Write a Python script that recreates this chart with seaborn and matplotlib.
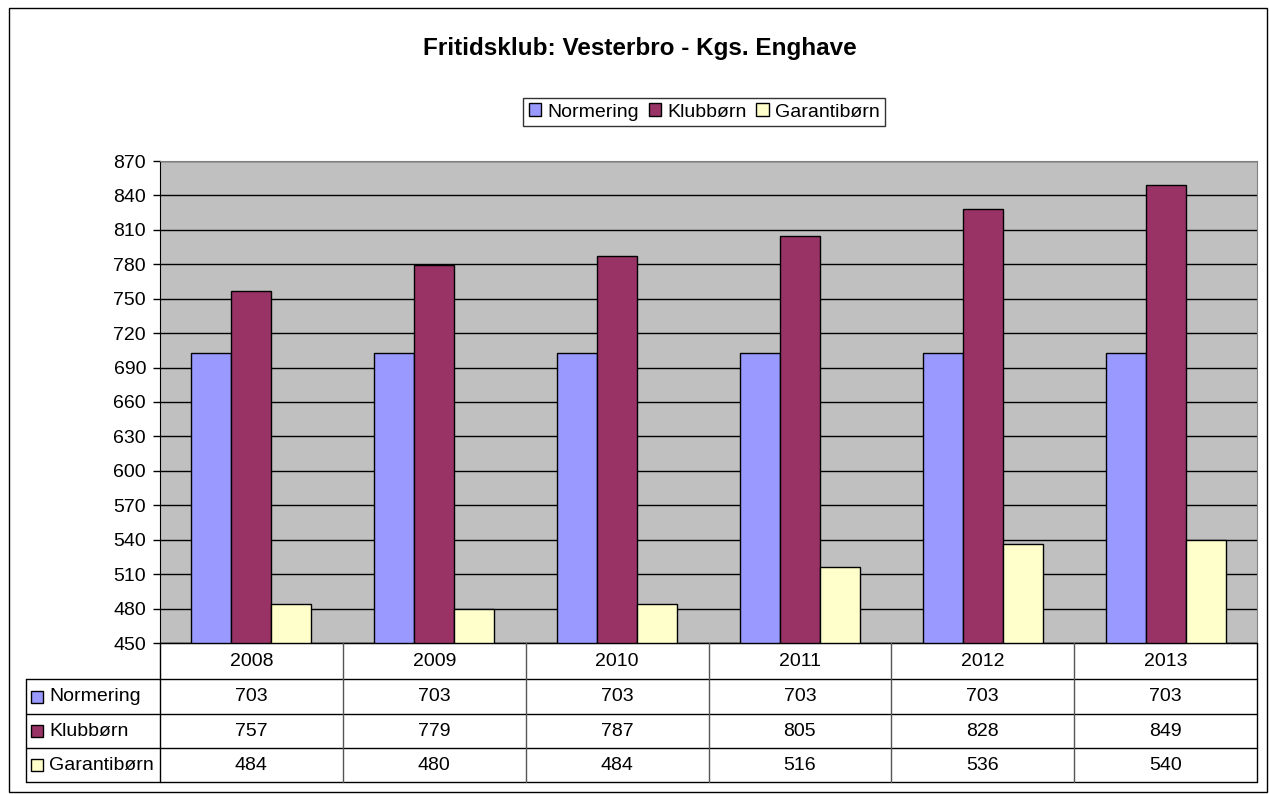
import pandas as pd
import matplotlib
matplotlib.use("Agg")
import matplotlib.pyplot as plt
import seaborn as sns
from matplotlib.patches import Rectangle, Patch
from matplotlib.lines import Line2D

# data
years = ['2008', '2009', '2010', '2011', '2012', '2013']
series_names = ['Normering', 'Klubbørn', 'Garantibørn']
normering = [703, 703, 703, 703, 703, 703]
klubborn = [757, 779, 787, 805, 828, 849]
garantiborn = [484, 480, 484, 516, 536, 540]
colors = ['#9999FF', '#993366', '#FFFFCC']

df = pd.DataFrame({
    'year': years * 3,
    'serie': [s for s in series_names for _ in years],
    'value': normering + klubborn + garantiborn,
})

sns.set_style("white")
plt.rcParams['font.family'] = ['Liberation Sans', 'DejaVu Sans']
plt.rcParams['text.color'] = 'black'
plt.rcParams['ytick.color'] = 'black'
plt.rcParams['ytick.labelcolor'] = 'black'

W, H = 1269, 794
fig = plt.figure(figsize=(W / 100, H / 100), dpi=100)

def fx(x):
    return x / W

def fy(y):
    return 1 - y / H

# plot area in pixels
left, right, top, bottom = 160, 1257, 161, 643
ax = fig.add_axes([fx(left), fy(bottom), fx(right - left), (bottom - top) / H])
ax.set_facecolor('#C0C0C0')

sns.barplot(data=df, x='year', y='value', hue='serie', palette=colors, saturation=1,
            width=0.656, edgecolor='black', linewidth=1, ax=ax, legend=False,
            zorder=3)

ax.set_ylim(450, 870)
ax.set_xlim(-0.5, 5.5)
ax.set_yticks(range(450, 871, 30))
ax.yaxis.grid(True, color='black', linewidth=1, zorder=0)
ax.set_axisbelow(True)
ax.set_xticks([])
ax.set_xlabel('')
ax.set_ylabel('')
ax.tick_params(axis='y', labelsize=14, length=5, width=1, color='black', pad=5, left=True)
for side in ['top', 'right']:
    ax.spines[side].set_color('#808080')
ax.spines['left'].set_color('black')
ax.spines['bottom'].set_color('black')

# title
fig.text(fx(640), fy(49), 'Fritidsklub: Vesterbro - Kgs. Enghave', ha='center', va='center',
         fontsize=17.5, fontweight='bold')

# legend
handles = [Patch(facecolor=c, edgecolor='black', linewidth=1) for c in colors]
leg = fig.legend(handles, series_names, loc='center', bbox_to_anchor=(fx(704), fy(112)),
                 ncol=3, frameon=True, fancybox=False, edgecolor='black', fontsize=14,
                 handlelength=0.65, handleheight=0.65, handletextpad=0.3, columnspacing=0.5,
                 borderpad=0.3, borderaxespad=0)
leg.get_frame().set_linewidth(1)

# data table under the chart
col_w = (right - left) / len(years)
row_edges = [643, 679, 714, 748, 782]
tab_left = 26

def hline(x0, x1, y, color='black'):
    fig.add_artist(Line2D([fx(x0), fx(x1)], [fy(y), fy(y)], color=color, linewidth=1))

def vline(x, y0, y1, color='black'):
    fig.add_artist(Line2D([fx(x), fx(x)], [fy(y0), fy(y1)], color=color, linewidth=1))

hline(left, right, row_edges[0])
for y in row_edges[1:]:
    hline(tab_left, right, y)
vline(tab_left, row_edges[1], row_edges[-1])
vline(left, row_edges[0], row_edges[-1])
for i in range(1, len(years)):
    vline(left + i * col_w, row_edges[0], row_edges[-1], color='#555555')
vline(right, row_edges[0], row_edges[-1])

for i, yr in enumerate(years):
    cx = left + (i + 0.5) * col_w
    fig.text(fx(cx), fy((row_edges[0] + row_edges[1]) / 2), yr, ha='center', va='center', fontsize=14)

for r, (name, vals, c) in enumerate(zip(series_names, [normering, klubborn, garantiborn], colors)):
    cy = (row_edges[r + 1] + row_edges[r + 2]) / 2
    fig.add_artist(Rectangle((fx(31), fy(cy + 6)), 12 / W, 12 / H, facecolor=c,
                             edgecolor='black', linewidth=1, transform=fig.transFigure))
    fig.text(fx(49), fy(cy), name, ha='left', va='center', fontsize=14)
    for i, v in enumerate(vals):
        cx = left + (i + 0.5) * col_w
        fig.text(fx(cx), fy(cy), str(v), ha='center', va='center', fontsize=14)

# outer chart border
fig.add_artist(Rectangle((fx(9), fy(792)), 1258 / W, 784 / H, fill=False,
                         edgecolor='black', linewidth=1, transform=fig.transFigure))

fig.savefig('out.png', dpi=100)
